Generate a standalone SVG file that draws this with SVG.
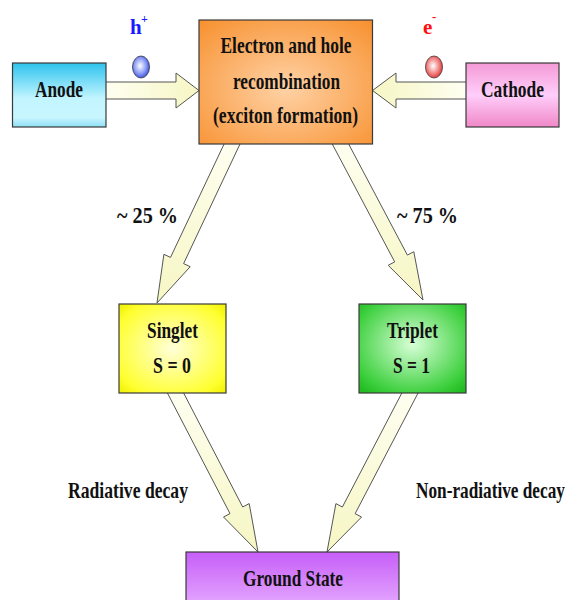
<svg xmlns="http://www.w3.org/2000/svg" width="571" height="600" viewBox="0 0 571 600">
<defs>
<linearGradient id="gAnode" x1="0" y1="0" x2="0" y2="1">
<stop offset="0" stop-color="#2ec3ee"/><stop offset="0.55" stop-color="#c2f5ff"/><stop offset="0.85" stop-color="#c8f6ff"/><stop offset="1" stop-color="#8edff4"/>
</linearGradient>
<linearGradient id="gCath" x1="0" y1="0" x2="0" y2="1">
<stop offset="0" stop-color="#f49ad6"/><stop offset="0.5" stop-color="#ffcefa"/><stop offset="1" stop-color="#f088c8"/>
</linearGradient>
<radialGradient id="gOrange" cx="0.5" cy="0.55" r="0.75">
<stop offset="0" stop-color="#ffd2a6"/><stop offset="1" stop-color="#f78f2c"/>
</radialGradient>
<radialGradient id="gYellow" cx="0.5" cy="0.5" r="0.7">
<stop offset="0" stop-color="#ffffd8"/><stop offset="0.8" stop-color="#ffff30"/><stop offset="1" stop-color="#f0f000"/>
</radialGradient>
<radialGradient id="gGreen" cx="0.5" cy="0.45" r="0.7">
<stop offset="0" stop-color="#d8ffd8"/><stop offset="0.8" stop-color="#3ed03e"/><stop offset="1" stop-color="#22bb22"/>
</radialGradient>
<linearGradient id="gPurple" x1="0" y1="0" x2="0" y2="1">
<stop offset="0" stop-color="#c65ef8"/><stop offset="1" stop-color="#e8b0ff"/>
</linearGradient>
<linearGradient id="aR" x1="0" y1="0" x2="1" y2="0">
<stop offset="0" stop-color="#fffff4"/><stop offset="1" stop-color="#f6f6c4"/>
</linearGradient>
<linearGradient id="aL" x1="1" y1="0" x2="0" y2="0">
<stop offset="0" stop-color="#fffff4"/><stop offset="1" stop-color="#f6f6c4"/>
</linearGradient>
<linearGradient id="aD" x1="0" y1="0" x2="0" y2="1">
<stop offset="0" stop-color="#fffff4"/><stop offset="1" stop-color="#f6f6c4"/>
</linearGradient>
<radialGradient id="gBlue" cx="0.45" cy="0.45" r="0.6">
<stop offset="0" stop-color="#ffffff"/><stop offset="0.6" stop-color="#8898f4"/><stop offset="1" stop-color="#3048d8"/>
</radialGradient>
<radialGradient id="gRed" cx="0.45" cy="0.45" r="0.6">
<stop offset="0" stop-color="#ffffff"/><stop offset="0.6" stop-color="#f08080"/><stop offset="1" stop-color="#d83030"/>
</radialGradient>
</defs>
<style>
.box{stroke:#3a3a3a;stroke-width:1.2}
.arrow{stroke:#555;stroke-width:1}
text{font-family:"Liberation Serif","Times New Roman",serif;font-weight:bold;fill:#111;font-size:23px}
.c{text-anchor:middle}
</style>
<rect width="571" height="600" fill="#fff"/>
<g id="connectors">
<polygon class="arrow" fill="url(#aR)" points="100,82 176,82 176,73 199,90.5 176,108 176,99 100,99"/>
<polygon class="arrow" fill="url(#aL)" points="470,82 396,82 396,73 372.5,90.5 396,108 396,99 470,99"/>
<polygon class="arrow" fill="url(#aD)" points="229.8,131.9 170.5,257.4 163.9,254.3 157,303 190.2,266.7 183.6,263.6 242.8,138.1"/>
<polygon class="arrow" fill="url(#aD)" points="342.2,131.8 329.4,138.6 394.7,261.9 388.2,265.3 423,300 413.8,251.7 407.4,255.1"/>
<polygon class="arrow" fill="url(#aD)" points="177.3,380.8 164.5,387.4 230,513.6 223.5,517 258,552 249.2,503.6 242.7,507"/>
<polygon class="arrow" fill="url(#aD)" points="408.2,380.8 421,387.4 355.1,513.7 361.6,517 327,552 335.9,503.6 342.4,507"/>
</g>
<g id="hole">
<text x="130" y="34" style="fill:#1a1aff;font-size:21px">h</text>
<text x="141" y="23" style="fill:#1a1aff;font-size:12px">+</text>
<ellipse cx="141" cy="67" rx="8.5" ry="11" fill="url(#gBlue)" stroke="#334" stroke-width="0.8"/>
</g>
<g id="electron">
<text x="423" y="34" style="fill:#ff1010;font-size:21px">e</text>
<text x="432" y="21" style="fill:#ff1010;font-size:13px">-</text>
<ellipse cx="434" cy="67" rx="8.5" ry="11" fill="url(#gRed)" stroke="#433" stroke-width="0.8"/>
</g>
<g id="anode">
<rect class="box" x="12.5" y="63" width="93.5" height="64" fill="url(#gAnode)"/>
<text class="c" x="59" y="97" textLength="48" lengthAdjust="spacingAndGlyphs">Anode</text>
</g>
<g id="recombination">
<rect class="box" x="199" y="20" width="173.5" height="124" fill="url(#gOrange)"/>
<text class="c" x="286" y="53" textLength="131" lengthAdjust="spacingAndGlyphs">Electron and hole</text>
<text class="c" x="286.5" y="89" textLength="107" lengthAdjust="spacingAndGlyphs">recombination</text>
<text class="c" x="285.5" y="123" textLength="145" lengthAdjust="spacingAndGlyphs">(exciton formation)</text>
</g>
<g id="cathode">
<rect class="box" x="466" y="63" width="93" height="64" fill="url(#gCath)"/>
<text class="c" x="512.5" y="97" textLength="63" lengthAdjust="spacingAndGlyphs">Cathode</text>
</g>
<g id="labels">
<text x="117" y="223" textLength="61" lengthAdjust="spacingAndGlyphs" style="font-size:24px">~ 25 %</text>
<text x="397" y="223" textLength="61" lengthAdjust="spacingAndGlyphs" style="font-size:24px">~ 75 %</text>
<text x="68" y="498" textLength="120" lengthAdjust="spacingAndGlyphs">Radiative decay</text>
<text transform="translate(416,498) scale(0.75,1)" x="0" y="0">Non-radiative decay</text>
</g>
<g id="singlet">
<rect class="box" x="119" y="304" width="107" height="89" fill="url(#gYellow)"/>
<text class="c" x="172.5" y="338" textLength="51" lengthAdjust="spacingAndGlyphs">Singlet</text>
<text class="c" x="172" y="373" textLength="38" lengthAdjust="spacingAndGlyphs">S = 0</text>
</g>
<g id="triplet">
<rect class="box" x="359" y="304" width="107" height="89" fill="url(#gGreen)"/>
<text class="c" x="412.5" y="338" textLength="51" lengthAdjust="spacingAndGlyphs">Triplet</text>
<text class="c" x="411.5" y="373" textLength="37" lengthAdjust="spacingAndGlyphs">S = 1</text>
</g>
<g id="ground">
<rect class="box" x="186" y="552" width="213" height="60" fill="url(#gPurple)"/>
<text class="c" x="293" y="586" textLength="100" lengthAdjust="spacingAndGlyphs">Ground State</text>
</g>
</svg>
